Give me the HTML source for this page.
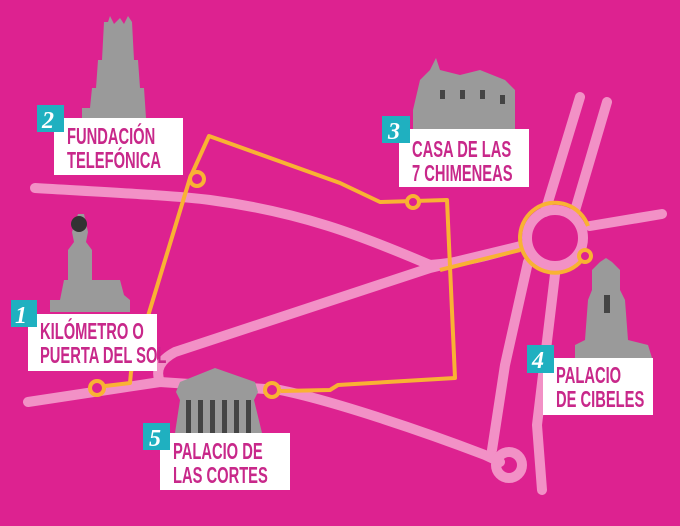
<!DOCTYPE html>
<html><head><meta charset="utf-8"><style>
html,body{margin:0;padding:0;background:#dd2290;}
svg{display:block}
.lbl{font-family:"Liberation Sans Narrow","Liberation Sans",sans-serif;font-weight:bold;fill:#c8288a;font-size:23px;}
.num{font-family:"Liberation Serif",serif;font-style:italic;font-weight:bold;fill:#fff;font-size:24px;}
</style></head><body>
<svg width="680" height="526" viewBox="0 0 680 526" xmlns="http://www.w3.org/2000/svg">
<rect width="680" height="526" fill="#dd2290"/>
<g fill="none" stroke="#f291c6" stroke-width="10" stroke-linecap="round" stroke-linejoin="round">
 <path d="M35,188 C120,193 180,196 210,200 C300,212 360,235 430,265 C470,262 500,252 525,245"/>
 <path d="M590,226 L662,214"/>
 <path d="M28,402 L160,382 L280,390 C330,400 420,430 485,455 L500,462"/>
 <path d="M160,382 C155,370 160,360 175,352 L430,268 L525,245"/>
 <path d="M580,97 L545,212"/>
 <path d="M607,102 L574,214"/>
 <path d="M528,262 L505,365 L492,450"/>
 <path d="M556,266 L537,425 L542,490"/>
 <circle cx="555" cy="238" r="28"/>
 <circle cx="509" cy="465" r="13"/>
</g>
<g fill="none" stroke="#f9b233" stroke-width="4" stroke-linejoin="round">
 <path d="M105,386 L130,383 L131,372 L190,178 L209,136 L340,183 L380,202 L447,200 L455,378 L338,385 L330,390 L281,391"/>
 <path d="M440,270 L520,250"/>
 <path d="M588,226 A35,35 0 1 0 586,254"/>
 <circle cx="97" cy="388" r="7" fill="#dd2290"/>
 <circle cx="197" cy="179" r="7" fill="#dd2290"/>
 <circle cx="413" cy="202" r="6" fill="#dd2290"/>
 <circle cx="272" cy="390" r="7" fill="#dd2290"/>
 <circle cx="585" cy="256" r="6" fill="#dd2290"/>
</g>
<!-- buildings -->
<g fill="#9a9a9a">
 <path d="M82,118 L82,108 L90,108 L92,88 L96,88 L98,60 L102,60 L104,22 L108,22 L110,16 L114,24 L120,18 L124,24 L128,16 L132,22 L134,60 L138,60 L140,88 L144,88 L146,118 Z"/>
 <path d="M50,312 L50,300 L60,300 L64,280 L68,280 L68,250 L74,242 L72,232 L78,214 L84,214 L88,232 L86,242 L92,250 L92,280 L120,280 L124,295 L130,300 L130,312 Z"/>
 <path d="M413,129 L413,110 L420,80 L430,70 L436,58 L440,70 L460,75 L480,70 L505,80 L515,90 L515,129 Z"/>
 <path d="M575,358 L575,345 L585,340 L588,300 L592,290 L592,270 L600,262 L606,258 L612,262 L620,270 L620,290 L625,300 L628,340 L648,345 L652,358 Z"/>
 <path d="M175,433 L180,400 L176,392 L180,382 L215,368 L255,382 L258,392 L254,400 L262,433 Z"/>
</g>
<g fill="#444">
 <rect x="186" y="400" width="5" height="33"/><rect x="198" y="400" width="5" height="33"/><rect x="210" y="400" width="5" height="33"/><rect x="222" y="400" width="5" height="33"/><rect x="234" y="400" width="5" height="33"/><rect x="246" y="400" width="5" height="33"/>
 <circle cx="79" cy="224" r="8" fill="#333"/>
 <rect x="440" y="90" width="5" height="9"/><rect x="460" y="90" width="5" height="9"/><rect x="480" y="90" width="5" height="9"/><rect x="500" y="95" width="5" height="9"/>
 <rect x="604" y="295" width="6" height="18"/>
</g>
<!-- labels -->
<g>
 <rect x="28" y="314" width="129" height="57" fill="#fff"/><rect x="11" y="300" width="26" height="27" fill="#1fb0c0"/>
 <text class="num" x="15" y="323">1</text>
 <text class="lbl" x="40" y="339" transform="translate(40 0) scale(0.64 1) translate(-40 0)">KILÓMETRO O</text>
 <text class="lbl" x="40" y="363" transform="translate(40 0) scale(0.64 1) translate(-40 0)">PUERTA DEL SOL</text>

 <rect x="54" y="118" width="129" height="57" fill="#fff"/><rect x="37" y="105" width="27" height="27" fill="#1fb0c0"/>
 <text class="num" x="42" y="128">2</text>
 <text class="lbl" x="67" y="144" transform="translate(67 0) scale(0.64 1) translate(-67 0)">FUNDACIÓN</text>
 <text class="lbl" x="67" y="168" transform="translate(67 0) scale(0.64 1) translate(-67 0)">TELEFÓNICA</text>

 <rect x="399" y="129" width="130" height="58" fill="#fff"/><rect x="382" y="116" width="28" height="27" fill="#1fb0c0"/>
 <text class="num" x="388" y="139">3</text>
 <text class="lbl" x="412" y="157" transform="translate(412 0) scale(0.64 1) translate(-412 0)">CASA DE LAS</text>
 <text class="lbl" x="412" y="181" transform="translate(412 0) scale(0.64 1) translate(-412 0)">7 CHIMENEAS</text>

 <rect x="543" y="358" width="110" height="57" fill="#fff"/><rect x="527" y="345" width="27" height="28" fill="#1fb0c0"/>
 <text class="num" x="532" y="368">4</text>
 <text class="lbl" x="556" y="383" transform="translate(556 0) scale(0.64 1) translate(-556 0)">PALACIO</text>
 <text class="lbl" x="556" y="407" transform="translate(556 0) scale(0.64 1) translate(-556 0)">DE CIBELES</text>

 <rect x="160" y="433" width="130" height="57" fill="#fff"/><rect x="143" y="423" width="27" height="27" fill="#1fb0c0"/>
 <text class="num" x="149" y="446">5</text>
 <text class="lbl" x="173" y="459" transform="translate(173 0) scale(0.64 1) translate(-173 0)">PALACIO DE</text>
 <text class="lbl" x="173" y="483" transform="translate(173 0) scale(0.64 1) translate(-173 0)">LAS CORTES</text>
</g>
</svg>
</body></html>
